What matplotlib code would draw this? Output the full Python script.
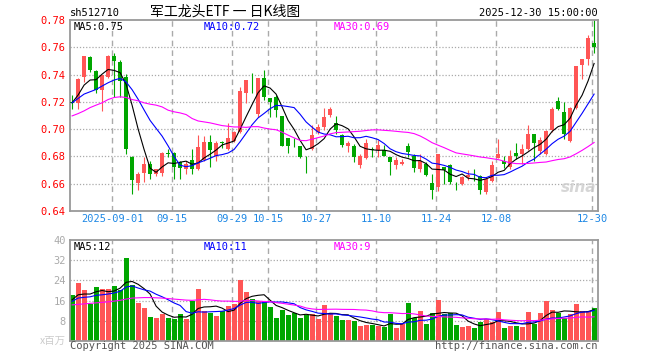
import numpy as np
import pandas as pd
import matplotlib
matplotlib.use('Agg')
import matplotlib.pyplot as plt

# 日K数据 (从图中读取, 2025-08-21 ~ 2025-12-30)
open_ = [0.7200, 0.7193, 0.7384, 0.7526, 0.7428, 0.7286, 0.7384, 0.7539, 0.7495, 0.7384,
         0.6795, 0.6607, 0.6678, 0.6746, 0.6668, 0.6678, 0.6822, 0.6825, 0.6756, 0.6710,
         0.6771, 0.6710, 0.6771, 0.6906, 0.6800, 0.6907, 0.6857, 0.6915, 0.6980, 0.7266,
         0.7345, 0.7114, 0.7372, 0.7225, 0.7237, 0.7097, 0.6938, 0.6908, 0.6875, 0.6797,
         0.6857, 0.6980, 0.7016, 0.7102, 0.7045, 0.6955, 0.6880, 0.6874, 0.6739, 0.6790,
         0.6852, 0.6845, 0.6850, 0.6795, 0.6739, 0.6746, 0.6874, 0.6800, 0.6710, 0.6746,
         0.6604, 0.6575, 0.6722, 0.6734, 0.6582, 0.6600, 0.6648, 0.6680, 0.6653, 0.6538,
         0.6619, 0.6791, 0.6766, 0.6722, 0.6825, 0.6815, 0.6857, 0.6962, 0.6840, 0.6820,
         0.6991, 0.7208, 0.7127, 0.6913, 0.7158, 0.7468, 0.7512, 0.7634]
high_ = [0.7250, 0.7378, 0.7536, 0.7535, 0.7430, 0.7400, 0.7543, 0.7556, 0.7507, 0.7404,
         0.6800, 0.6683, 0.6795, 0.6766, 0.6710, 0.6832, 0.6857, 0.6832, 0.6763, 0.6770,
         0.6857, 0.6955, 0.6947, 0.6955, 0.6913, 0.6913, 0.7046, 0.6990, 0.7310, 0.7360,
         0.7409, 0.7375, 0.7433, 0.7225, 0.7250, 0.7100, 0.6938, 0.6938, 0.6875, 0.6800,
         0.7028, 0.7036, 0.7158, 0.7163, 0.7097, 0.6967, 0.6910, 0.6894, 0.6820, 0.6930,
         0.6870, 0.6923, 0.6882, 0.6795, 0.6795, 0.6783, 0.6898, 0.6820, 0.6820, 0.6758,
         0.6673, 0.6820, 0.6722, 0.6746, 0.6611, 0.6660, 0.6700, 0.6710, 0.6665, 0.6640,
         0.6766, 0.6930, 0.6800, 0.6845, 0.6898, 0.6894, 0.7028, 0.6962, 0.6940, 0.6992,
         0.7163, 0.7232, 0.7200, 0.7163, 0.7463, 0.7512, 0.7691, 0.7813]
low_ = [0.7150, 0.7145, 0.7345, 0.7420, 0.7267, 0.7134, 0.7375, 0.7237, 0.7237, 0.6815,
        0.6521, 0.6554, 0.6615, 0.6635, 0.6653, 0.6653, 0.6795, 0.6635, 0.6635, 0.6670,
        0.6670, 0.6697, 0.6766, 0.6722, 0.6766, 0.6860, 0.6845, 0.6905, 0.6970, 0.7188,
        0.7262, 0.7090, 0.7212, 0.7090, 0.7090, 0.6874, 0.6825, 0.6868, 0.6790, 0.6680,
        0.6850, 0.6967, 0.6992, 0.7090, 0.6967, 0.6869, 0.6830, 0.6758, 0.6717, 0.6783,
        0.6795, 0.6795, 0.6800, 0.6661, 0.6710, 0.6734, 0.6795, 0.6685, 0.6685, 0.6653,
        0.6489, 0.6550, 0.6600, 0.6600, 0.6555, 0.6587, 0.6630, 0.6620, 0.6526, 0.6521,
        0.6612, 0.6790, 0.6717, 0.6710, 0.6783, 0.6746, 0.6845, 0.6766, 0.6820, 0.6808,
        0.6979, 0.7139, 0.6930, 0.6906, 0.7150, 0.7365, 0.7470, 0.7556]
close_ = [0.7193, 0.7365, 0.7536, 0.7433, 0.7286, 0.7396, 0.7536, 0.7502, 0.7352, 0.6857,
          0.6629, 0.6668, 0.6746, 0.6668, 0.6707, 0.6825, 0.6820, 0.6722, 0.6714, 0.6746,
          0.6710, 0.6869, 0.6905, 0.6850, 0.6900, 0.6897, 0.6938, 0.6980, 0.7281, 0.7360,
          0.7342, 0.7372, 0.7232, 0.7200, 0.7139, 0.6874, 0.6874, 0.6905, 0.6795, 0.6795,
          0.6955, 0.7016, 0.7090, 0.7144, 0.6991, 0.6886, 0.6900, 0.6795, 0.6800, 0.6898,
          0.6850, 0.6882, 0.6800, 0.6758, 0.6776, 0.6758, 0.6832, 0.6717, 0.6766, 0.6665,
          0.6555, 0.6820, 0.6697, 0.6611, 0.6580, 0.6648, 0.6665, 0.6675, 0.6555, 0.6636,
          0.6734, 0.6820, 0.6742, 0.6800, 0.6800, 0.6857, 0.6967, 0.6898, 0.6920, 0.6987,
          0.7144, 0.7144, 0.6967, 0.7158, 0.7463, 0.7512, 0.7669, 0.7605]
volume = [18.1, 23.0, 20.3, 14.7, 21.4, 20.6, 20.6, 21.7, 20.3, 33.0,
          22.3, 15.0, 13.0, 9.7, 9.0, 10.6, 9.0, 8.7, 10.6, 8.6,
          15.9, 20.6, 11.7, 11.0, 9.9, 11.9, 13.7, 14.6, 24.2, 19.4,
          16.6, 15.7, 15.7, 13.4, 9.0, 12.3, 10.3, 11.0, 9.0, 10.3,
          10.6, 8.7, 14.3, 11.0, 9.9, 8.3, 8.3, 7.9, 5.9, 6.3,
          6.3, 5.9, 5.4, 10.6, 5.0, 6.6, 15.0, 9.0, 11.9, 6.6,
          11.0, 16.3, 10.6, 11.0, 6.2, 5.7, 5.9, 5.0, 7.4, 8.6,
          7.7, 11.4, 5.0, 6.1, 5.9, 5.5, 11.4, 6.6, 11.0, 15.9,
          12.3, 11.0, 9.3, 10.6, 14.6, 11.9, 11.9, 13.0]

# 窗口前历史数据决定的均线起始段
ma5_head = [0.7193, 0.7250, 0.7323, 0.7360]
ma10_head = [0.7193, 0.7225, 0.7257, 0.7274, 0.7291, 0.7316, 0.7340, 0.7360, 0.7372]
ma30_head = [0.7097, 0.7114, 0.7134, 0.7158, 0.7176, 0.7193, 0.7217, 0.7232, 0.7237, 0.7232,
             0.7217, 0.7208, 0.7193, 0.7183, 0.7176, 0.7163, 0.7139, 0.7127, 0.7119, 0.7107,
             0.7078, 0.7060, 0.7053, 0.7046, 0.7036, 0.7026, 0.7021, 0.7016, 0.7016]
vma5_head = [16.3, 18.3, 18.6, 18.6]
vma10_head = [15.7, 17.0, 17.3, 17.5, 18.1, 18.3, 18.6, 19.0, 19.7]
vma30_head = [14.3, 14.5, 14.7, 14.9, 15.1, 15.3, 15.5, 15.8, 16.1, 16.6,
              17.0, 17.1, 17.2, 17.2, 17.1, 17.0, 16.8, 16.6, 16.4, 16.2,
              16.1, 16.3, 16.5, 16.3, 16.0, 15.8, 15.8, 15.7, 15.7]

date_labels = ['2025-09-01', '09-15', '09-29', '10-15', '10-27', '11-10', '11-24', '12-08', '12-30']
date_idx = [7, 17, 27, 33, 41, 51, 61, 71, 87]
price_ticks = [0.64, 0.66, 0.68, 0.70, 0.72, 0.74, 0.76, 0.78]
vol_ticks = [8, 16, 24, 32, 40]

RED = '#ff5555'
GREEN = '#00a600'
GRID = '#aaaaaa'
FRAME = '#999999'
MONO = ['DejaVu Sans Mono']
CJK = ['Noto Sans CJK SC', 'DejaVu Sans']

W, H = 660, 360


def ma(values, n, head):
    s = pd.Series(values).rolling(n).mean().to_numpy()
    s[:n - 1] = head
    return s


o = np.array(open_)
c = np.array(close_)
x = np.arange(len(c))
up = c >= o
col = np.where(up, RED, GREEN)

fig = plt.figure(figsize=(W / 100, H / 100), dpi=100)
fig.patch.set_facecolor('white')

ax = fig.add_axes([70 / W, 1 - 211 / H, 528 / W, 191 / H])
axv = fig.add_axes([70 / W, 1 - 341 / H, 528 / W, 101 / H])

xlim = (-0.35, 87.65)
vx = [i - 0.33 for i in date_idx]

# 价格面板
for a in (ax, axv):
    a.set_xlim(*xlim)
    for v in vx:
        a.axvline(v, color=GRID, lw=1.0, ls=(0, (4, 3)), zorder=0)
    for s in a.spines.values():
        s.set_color(FRAME)
        s.set_linewidth(1.3)
    a.tick_params(length=0)

ax.set_ylim(0.64, 0.78)
for v in price_ticks[1:-1]:
    ax.axhline(v, color=GRID, lw=0.9, ls=(0, (1, 1.5)), zorder=0)

ax.vlines(x, low_, high_, colors=col, lw=0.8, zorder=2)
body_b = np.minimum(o, c)
body_h = np.maximum(np.abs(c - o), 0.0004)
ax.bar(x, body_h, bottom=body_b, width=0.75, color=col, lw=0, zorder=3)

ax.plot(x, ma(close_, 5, ma5_head), color='black', lw=0.8, zorder=4)
ax.plot(x, ma(close_, 10, ma10_head), color='#0000ff', lw=0.8, zorder=4)
ax.plot(x, ma(close_, 30, ma30_head), color='#ff00ff', lw=0.8, zorder=4)

ax.set_yticks(price_ticks)
ax.set_yticklabels(['%.2f' % v for v in price_ticks], color='#ff0000',
                   fontsize=7.5, family=MONO)
ax.set_xticks(vx)
ax.set_xticklabels(date_labels, color='#1e88e5', fontsize=7.5, family=MONO)
ax.tick_params(axis='y', pad=3)
ax.tick_params(axis='x', pad=2)

# 成交量面板
axv.set_ylim(0, 40)
for v in vol_ticks[:-1]:
    axv.axhline(v, color=GRID, lw=0.9, ls=(0, (1, 1.5)), zorder=0)
axv.bar(x, volume, width=0.86, color=col, lw=0, zorder=2)
axv.plot(x, ma(volume, 5, vma5_head), color='black', lw=0.8, zorder=4)
axv.plot(x, ma(volume, 10, vma10_head), color='#0000ff', lw=0.8, zorder=4)
axv.plot(x, ma(volume, 30, vma30_head), color='#ff00ff', lw=0.8, zorder=4)
axv.set_yticks(vol_ticks)
axv.set_yticklabels([str(v) for v in vol_ticks], color='#aaaaaa',
                    fontsize=7.5, family=MONO)
axv.tick_params(axis='y', pad=3)
axv.set_xticks([])


def ftext(px, py, s, **kw):
    fig.text(px / W, 1 - py / H, s, **kw)


# 标题与注释
ftext(70, 13, 'sh512710', fontsize=7.5, family=MONO, va='center')
ftext(150, 12, '军工龙头ETF 一 日K线图', fontsize=10, family=CJK, va='center')
ftext(598, 13, '2025-12-30 15:00:00', fontsize=7.5, family=MONO, va='center', ha='right')

ftext(74, 27, 'MA5:0.75', fontsize=7.5, family=MONO, va='center', color='black')
ftext(204, 27, 'MA10:0.72', fontsize=7.5, family=MONO, va='center', color='#0000ff')
ftext(334, 27, 'MA30:0.69', fontsize=7.5, family=MONO, va='center', color='#ff00ff')

ftext(74, 247, 'MA5:12', fontsize=7.5, family=MONO, va='center', color='black')
ftext(204, 247, 'MA10:11', fontsize=7.5, family=MONO, va='center', color='#0000ff')
ftext(334, 247, 'MA30:9', fontsize=7.5, family=MONO, va='center', color='#ff00ff')

ftext(66, 341, 'x百万', fontsize=7.5, family=CJK, va='center', ha='right', color='#cccccc')
ftext(70, 346, 'Copyright 2025 SINA.COM', fontsize=7.5, family=MONO, va='center', color='#555555')
ftext(598, 346, 'http://finance.sina.com.cn', fontsize=7.5, family=MONO, va='center',
      ha='right', color='#555555')
ftext(596, 188, 'sina', fontsize=11, weight='bold', style='italic', va='center', ha='right',
      color='#cccccc', alpha=0.8)

fig.savefig('out.png', dpi=100, facecolor='white')
